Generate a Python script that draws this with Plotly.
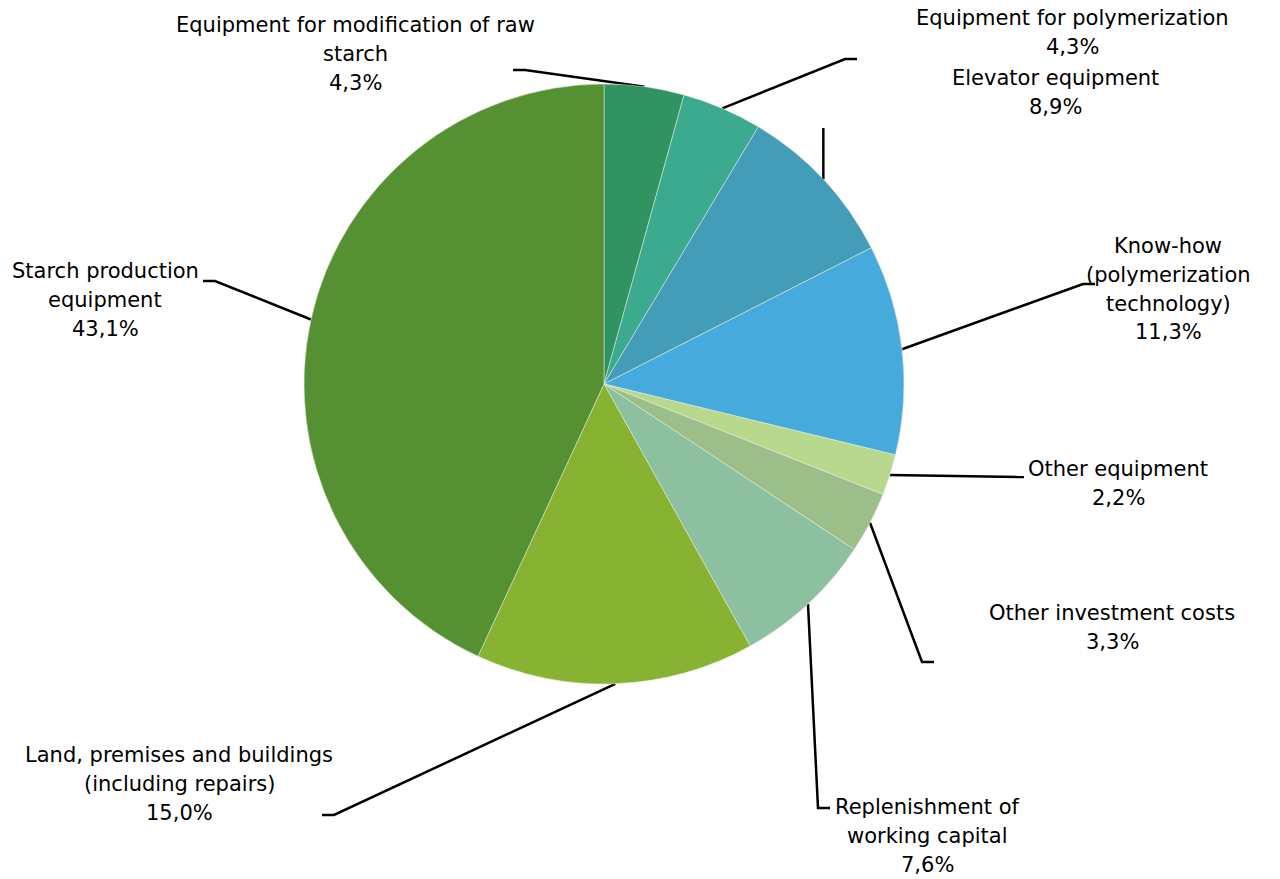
import math
import plotly.graph_objects as go

# Investment structure, clockwise from 12 o'clock
categories = [
    "Equipment for modification of raw starch",
    "Equipment for polymerization",
    "Elevator equipment",
    "Know-how (polymerization technology)",
    "Other equipment",
    "Other investment costs",
    "Replenishment of working capital",
    "Land, premises and buildings (including repairs)",
    "Starch production equipment",
]
shares = [4.3, 4.3, 8.9, 11.3, 2.2, 3.3, 7.6, 15.0, 43.1]
label_lines = [
    ["Equipment for modification of raw", "starch"],
    ["Equipment for polymerization"],
    ["Elevator equipment"],
    ["Know-how", "(polymerization", "technology)"],
    ["Other equipment"],
    ["Other investment costs"],
    ["Replenishment of", "working capital"],
    ["Land, premises and buildings", "(including repairs)"],
    ["Starch production", "equipment"],
]
colors = ["#319262", "#3BAA8E", "#439DB9", "#47AADC", "#B8D88E",
          "#9CBF8A", "#8CC0A0", "#88B232", "#559132"]

# Page geometry (pixels)
W, H = 1280, 879
CX, CY, R = 604, 384, 300

# Callout layout: elbow point (x=None -> straight vertical), tick length,
# label centre x, first line y
elbows = [(525, 70), (845, 59), (None, 128), (1083, 284), (1012, 477),
          (922, 662), (818, 808), (334, 815), (215, 281)]
tick_dx = [-12, 12, 0, 12, 12, 12, 12, -12, -12]
label_x = [355, 1072, 1055, 1168, 1118, 1112, 927, 179, 105]
label_y0 = [25, 18, 78, 246, 469, 613, 807, 755, 271]
LINE_STEP = 28.8

FONT = "DejaVu Sans"
FSIZE = 21

fig = go.Figure()

fig.add_trace(go.Pie(
    labels=categories,
    values=shares,
    sort=False,
    direction="clockwise",
    rotation=0,
    textinfo="none",
    hoverinfo="label+percent",
    marker=dict(colors=colors, line=dict(color="#e8efe0", width=0.5)),
    domain=dict(x=[(CX - R) / W, (CX + R) / W],
                y=[(H - CY - R) / H, (H - CY + R) / H]),
    showlegend=False,
))

total = sum(shares)
cum = 0.0
annotations = []
for i, v in enumerate(shares):
    mid = (cum + v / 2) / total * 2 * math.pi
    cum += v
    sx = CX + R * math.sin(mid)
    sy = CY - R * math.cos(mid)
    ex, ey = elbows[i]
    if ex is None:
        ex = sx
    xs = [sx, ex]
    ys = [sy, ey]
    if tick_dx[i]:
        xs.append(ex + tick_dx[i])
        ys.append(ey)
    fig.add_trace(go.Scatter(x=xs, y=ys, mode="lines",
                             line=dict(color="black", width=2.5),
                             hoverinfo="skip", showlegend=False))
    lines = label_lines[i] + [f"{v:.1f}%".replace(".", ",")]
    for k, t in enumerate(lines):
        annotations.append(dict(
            x=label_x[i], y=label_y0[i] + k * LINE_STEP, xref="x", yref="y",
            text=t, showarrow=False, xanchor="center", yanchor="middle",
            font=dict(family=FONT, size=FSIZE, color="black"),
        ))

fig.update_layout(
    width=W, height=H,
    margin=dict(l=0, r=0, t=0, b=0),
    paper_bgcolor="white", plot_bgcolor="rgba(0,0,0,0)",
    xaxis=dict(range=[0, W], visible=False, fixedrange=True),
    yaxis=dict(range=[H, 0], visible=False, fixedrange=True),
    annotations=annotations,
)

fig.write_html("out.html")
